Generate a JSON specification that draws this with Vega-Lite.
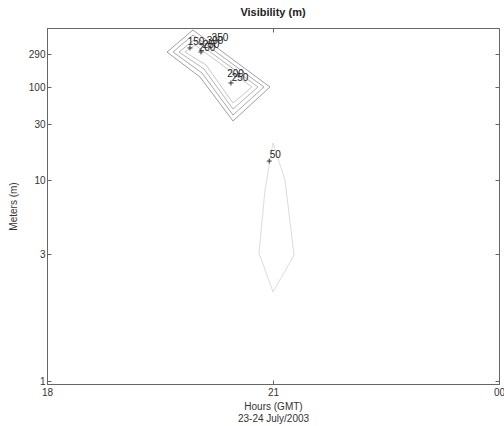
{
  "$schema": "https://vega.github.io/schema/vega-lite/v6.json",
  "autosize": {"type": "none"},
  "width": 452,
  "height": 356,
  "padding": {"left": 47, "top": 28, "right": 5, "bottom": 42},
  "background": "white",
  "config": {
    "view": {"stroke": "#666666", "strokeWidth": 1},
    "font": "Liberation Sans",
    "axis": {
      "domainColor": "#666666",
      "tickColor": "#666666",
      "tickSize": -4,
      "labelColor": "#333333",
      "labelFont": "Liberation Sans",
      "labelFontSize": 10,
      "titleFont": "Liberation Sans",
      "titleFontSize": 10,
      "titleFontWeight": "normal",
      "titleColor": "#333333",
      "grid": false
    }
  },
  "title": {
    "text": "Visibility (m)",
    "font": "Liberation Sans",
    "fontSize": 11,
    "fontWeight": "bold",
    "color": "#222222",
    "offset": 10
  },
  "datasets": {
    "contours": [
      {"level": 150, "order": 1, "hour": 19.593, "meters": 309},
      {"level": 150, "order": 2, "hour": 19.938, "meters": 628},
      {"level": 150, "order": 3, "hour": 20.96, "meters": 100},
      {"level": 150, "order": 4, "hour": 20.469, "meters": 33.1},
      {"level": 150, "order": 5, "hour": 20.031, "meters": 138},
      {"level": 150, "order": 6, "hour": 19.593, "meters": 309},
      {"level": 200, "order": 1, "hour": 19.673, "meters": 309},
      {"level": 200, "order": 2, "hour": 19.938, "meters": 535},
      {"level": 200, "order": 3, "hour": 20.88, "meters": 100},
      {"level": 200, "order": 4, "hour": 20.469, "meters": 40.2},
      {"level": 200, "order": 5, "hour": 20.058, "meters": 157},
      {"level": 200, "order": 6, "hour": 19.673, "meters": 309},
      {"level": 250, "order": 1, "hour": 19.752, "meters": 309},
      {"level": 250, "order": 2, "hour": 19.951, "meters": 455},
      {"level": 250, "order": 3, "hour": 20.801, "meters": 100},
      {"level": 250, "order": 4, "hour": 20.469, "meters": 48.9},
      {"level": 250, "order": 5, "hour": 20.084, "meters": 179},
      {"level": 250, "order": 6, "hour": 19.752, "meters": 309},
      {"level": 300, "order": 1, "hour": 19.832, "meters": 309},
      {"level": 300, "order": 2, "hour": 19.965, "meters": 387},
      {"level": 300, "order": 3, "hour": 20.721, "meters": 100},
      {"level": 300, "order": 4, "hour": 20.469, "meters": 59.4},
      {"level": 300, "order": 5, "hour": 20.111, "meters": 203},
      {"level": 300, "order": 6, "hour": 19.832, "meters": 309},
      {"level": 50, "order": 1, "hour": 21.0, "meters": 20.7},
      {"level": 50, "order": 2, "hour": 21.159, "meters": 10},
      {"level": 50, "order": 3, "hour": 21.279, "meters": 2.97},
      {"level": 50, "order": 4, "hour": 21.0, "meters": 2.16},
      {"level": 50, "order": 5, "hour": 20.814, "meters": 3.05},
      {"level": 50, "order": 6, "hour": 20.894, "meters": 8.5},
      {"level": 50, "order": 7, "hour": 21.0, "meters": 20.7}
    ],
    "labels": [
      {"label": "150", "hour": 19.978, "meters": 427},
      {"label": "200", "hour": 20.124, "meters": 352},
      {"label": "250", "hour": 20.177, "meters": 387},
      {"label": "300", "hour": 20.23, "meters": 441},
      {"label": "350", "hour": 20.296, "meters": 485},
      {"label": "200", "hour": 20.502, "meters": 150},
      {"label": "250", "hour": 20.562, "meters": 134},
      {"label": "50", "hour": 21.03, "meters": 16.3}
    ],
    "marks": [
      {"hour": 19.898, "meters": 352},
      {"hour": 20.044, "meters": 309},
      {"hour": 20.442, "meters": 114},
      {"hour": 20.95, "meters": 14.5}
    ]
  },
  "layer": [
    {
      "data": {"name": "contours"},
      "mark": {"type": "line", "strokeWidth": 1, "interpolate": "linear"},
      "encoding": {
        "x": {
          "field": "hour", "type": "quantitative",
          "scale": {"domain": [18, 24], "nice": false, "zero": false},
          "axis": {
            "values": [18, 21, 24],
            "labelExpr": "datum.value == 24 ? '00' : datum.value",
            "title": ["Hours (GMT)", "23-24 July/2003"],
            "titlePadding": 4,
            "labelPadding": 7,
            "labelFlush": false
          }
        },
        "y": {
          "field": "meters", "type": "quantitative",
          "scale": {
            "type": "log",
            "domain": [0.975, 1, 3, 10, 30, 100, 290, 670],
            "range": [356, 353, 226, 152, 96, 59, 26, 0],
            "nice": false, "zero": false
          },
          "axis": {
            "values": [1, 3, 10, 30, 100, 290],
            "labelExpr": "datum.value",
            "title": "Meters (m)",
            "titlePadding": 10,
            "labelPadding": 6,
            "labelFlush": false
          }
        },
        "detail": {"field": "level", "type": "nominal"},
        "order": {"field": "order", "type": "quantitative"},
        "color": {
          "field": "level", "type": "nominal",
          "scale": {
            "domain": [50, 150, 200, 250, 300],
            "range": ["#dcdcdc", "#a0a0a0", "#aaaaaa", "#b4b4b4", "#c8c8c8"]
          },
          "legend": null
        }
      }
    },
    {
      "data": {"name": "marks"},
      "mark": {"type": "point", "shape": "M-1,0L1,0M0,-1L0,1", "size": 25, "filled": false, "fill": null, "stroke": "#333333", "strokeWidth": 1, "opacity": 1},
      "encoding": {
        "x": {"field": "hour", "type": "quantitative", "axis": {"orient": "top", "values": [18, 21, 24], "labels": false, "title": null, "domain": false}},
        "y": {"field": "meters", "type": "quantitative", "axis": {"orient": "right", "values": [1, 3, 10, 30, 100, 290], "labels": false, "title": null, "domain": false}}
      }
    },
    {
      "data": {"name": "labels"},
      "mark": {"type": "text", "font": "Liberation Sans", "fontSize": 10, "fill": "#222222", "align": "center", "baseline": "middle"},
      "encoding": {
        "x": {"field": "hour", "type": "quantitative", "axis": null},
        "y": {"field": "meters", "type": "quantitative", "axis": null},
        "text": {"field": "label", "type": "nominal"}
      }
    }
  ],
  "resolve": {"axis": {"x": "independent", "y": "independent"}}
}
